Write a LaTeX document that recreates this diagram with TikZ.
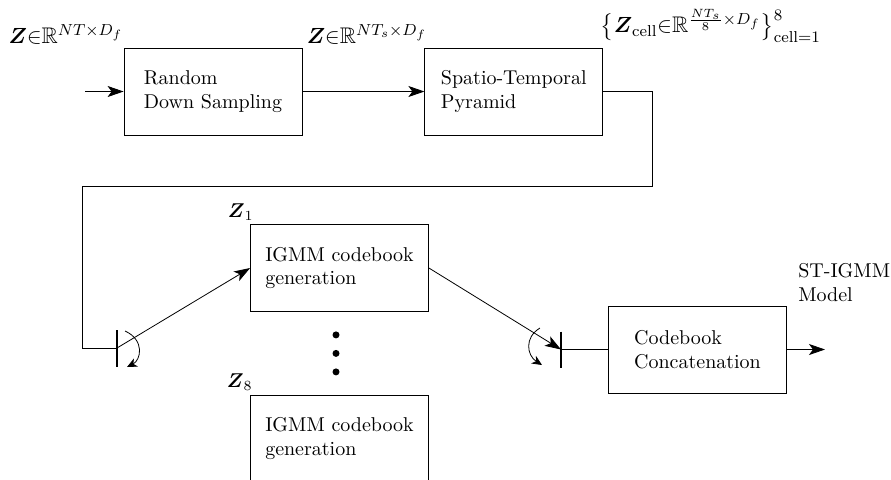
\documentclass[tikz,border=0pt]{standalone}
\usepackage{amsmath,amssymb}
\usetikzlibrary{positioning,arrows.meta}

\begin{document}
\begin{tikzpicture}[x=0.5pt, y=-0.5pt,
  node distance=61pt,
  box/.style={draw, align=left, minimum width=89pt, minimum height=43.5pt},
  lbl/.style={inner sep=0pt},
  biglbl/.style={lbl, font=\fontsize{11.3}{13.5}\selectfont},
  arr/.style={-{Stealth[length=8pt, width=5.5pt, inset=2pt]}},
  swing/.style={-{Stealth[length=5pt, width=4.5pt, inset=1.5pt]}},
  bar/.style={line width=1pt}]
  \useasboundingbox (0,0) rectangle (891,479);
  \node[box] (rds) at (213,91.5) {Random\\Down Sampling};
  \node[box, right=of rds] (pyr) {Spatio-Temporal\\Pyramid};
  \node[box] (igmm1) at (339.5,268) {IGMM codebook\\generation};
  \node[box, below=41.5pt of igmm1] (igmm8) {IGMM codebook\\generation};
  \node[box] (concat) at (697.5,349.5) {Codebook\\Concatenation};
  % labels
  \node[biglbl, above left=1.5pt and 0pt of rds.north west] (zin) {$\boldsymbol{Z}{\in}\mathbb{R}^{NT\times D_f}$};
  \node[biglbl, above left=1.5pt and -1.5pt of pyr.north west] (zs) {$\boldsymbol{Z}{\in}\mathbb{R}^{NT_s\times D_f}$};
  \node[biglbl, above right=2.5pt and -1.5pt of pyr.north east] (zcell) {$\big\{\boldsymbol{Z}_{\text{cell}}{\in}\mathbb{R}^{\frac{NT_s}{8}\times D_f}\big\}_{\text{cell}=1}^{8}$};
  \node[lbl, above left=1.5pt and -2pt of igmm1.north west] (z1) {$\boldsymbol{Z}_1$};
  \node[lbl, above left=2pt and -1.5pt of igmm8.north west] (z8) {$\boldsymbol{Z}_8$};
  \node[lbl, align=left, above right=1.5pt and 5.5pt of concat.north east] (model) {ST-IGMM\\Model};
  % switches and turns
  \coordinate (in) at (85,91.5);
  \coordinate (turnR) at (652,186);
  \coordinate (turnL) at (82,186);
  \coordinate (swL) at (117,348);
  \coordinate (swR) at (561,349.5);
  \coordinate (out) at (825,349.5);
  \draw[arr] (in) -- (rds.west);
  \draw[arr] (rds.east) -- (pyr.west);
  \draw (pyr.east) -| (turnR) -- (turnL) |- (swL);
  \draw[bar] ([yshift=9pt]swL) -- ([yshift=-9.5pt]swL);
  \draw[arr] (swL) -- (igmm1.west);
  \draw[swing] ([shift={(8,-17)}]swL) .. controls ([shift={(28,-8)}]swL) and ([shift={(24,12)}]swL) .. ([shift={(10,19)}]swL);
  \draw[arr] (igmm1.east) -- (swR);
  \draw[bar] ([yshift=9pt]swR) -- ([yshift=-9pt]swR);
  \draw[swing] ([shift={(-21,-21.5)}]swR) .. controls ([shift={(-37,-12)}]swR) and ([shift={(-34,6)}]swR) .. ([shift={(-19,15.5)}]swR);
  \draw (swR) -- (concat.west);
  \draw[arr] (concat.east) -- (out);
  \foreach \dy in {23,41.5,60}
    \fill ([shift={(-3.5,\dy)}]igmm1.south) circle [radius=1.75pt];
\end{tikzpicture}
\end{document}
